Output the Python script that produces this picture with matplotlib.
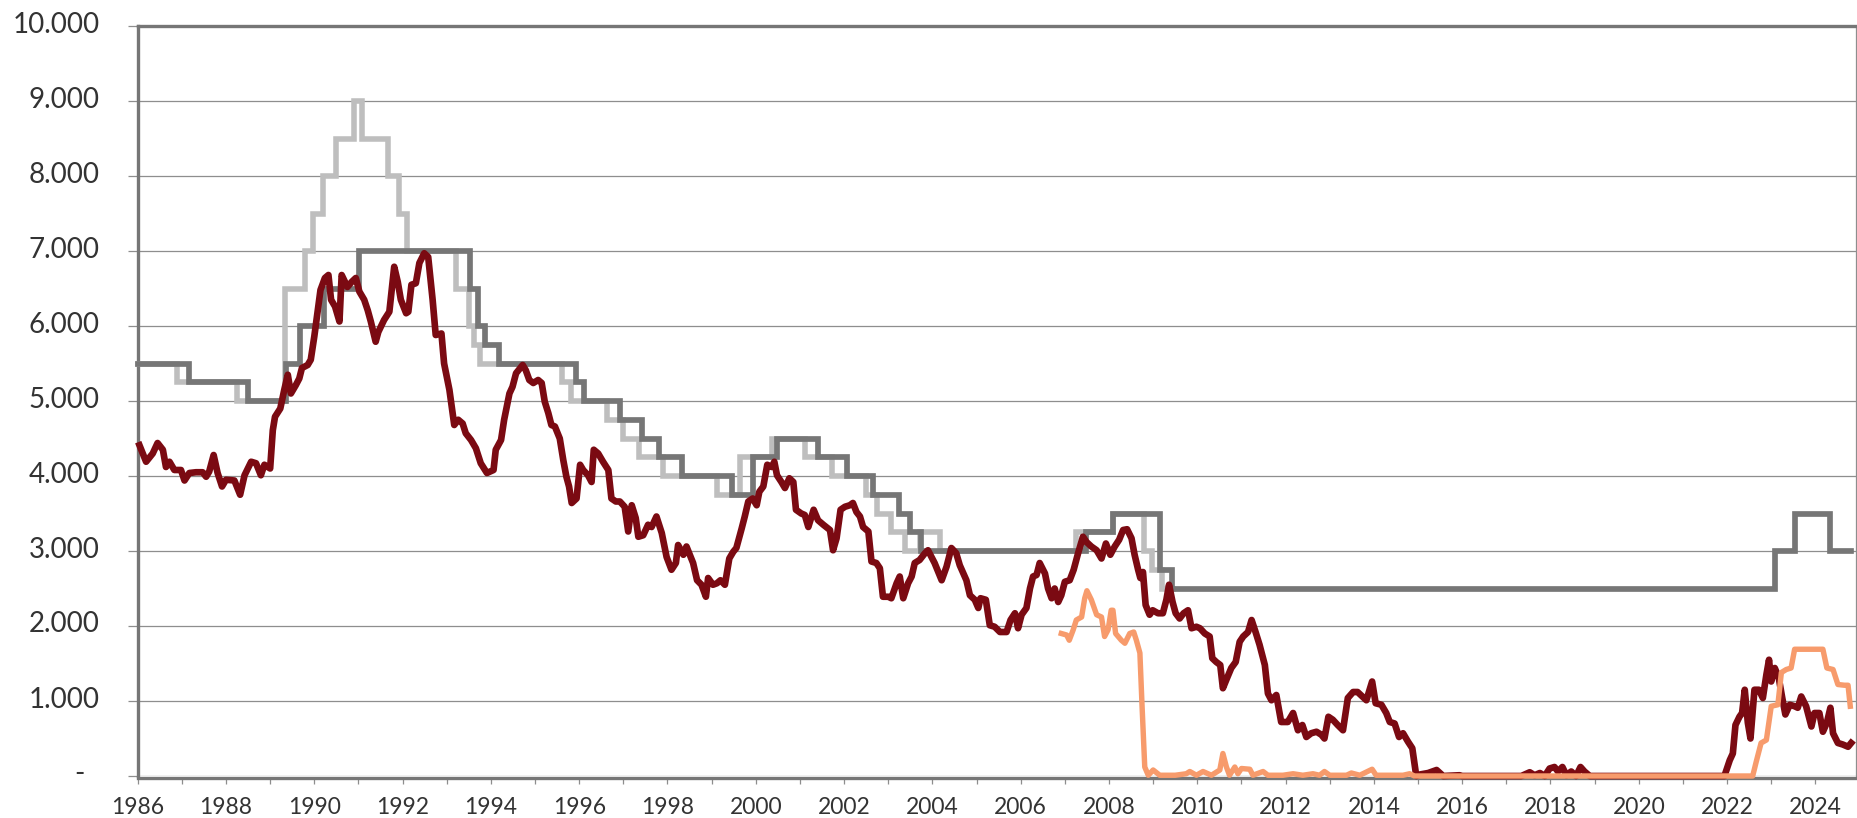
import matplotlib
matplotlib.use("Agg")
import matplotlib.pyplot as plt
import matplotlib.transforms as mtransforms

# ---------------- data ----------------
# light grey stepped rate: change dates (decimal years) and values
lg_dates = [1986.0, 1986.9, 1988.25, 1989.33, 1989.8, 1989.97, 1990.2, 1990.5, 1990.9,
            1991.07, 1991.68, 1991.92, 1992.1, 1993.21, 1993.5, 1993.62, 1993.75,
            1995.62, 1995.82, 1996.64, 1997.0, 1997.36, 1997.9, 1999.12, 1999.64,
            2000.36, 2001.11, 2001.72, 2002.5, 2002.75, 2003.07, 2003.38, 2003.72,
            2004.17, 2007.25, 2008.1, 2008.8, 2008.97, 2009.2, 2009.45]
lg_values = [5.5, 5.25, 5.0, 6.5, 7.0, 7.5, 8.0, 8.5, 9.0,
             8.5, 8.0, 7.5, 7.0, 6.5, 6.0, 5.75, 5.5,
             5.25, 5.0, 4.75, 4.5, 4.25, 4.0, 3.75, 4.25,
             4.5, 4.25, 4.0, 3.75, 3.5, 3.25, 3.0, 3.25,
             3.0, 3.25, 3.5, 3.0, 2.75, 2.5, 2.5]

# dark grey stepped rate
dg_dates = [1986.0, 1987.16, 1988.5, 1989.36, 1989.68, 1990.22, 1991.02, 1993.52, 1993.70,
            1993.86, 1994.18, 1995.93, 1996.12, 1996.93, 1997.42, 1997.8, 1998.33, 1999.46,
            1999.94, 2000.47, 2001.41, 2002.06, 2002.66, 2003.24, 2003.5, 2003.74, 2007.47,
            2008.1, 2009.15, 2009.42, 2023.08, 2023.54, 2024.33, 2024.80]
dg_values = [5.5, 5.25, 5.0, 5.5, 6.0, 6.5, 7.0, 6.5, 6.0,
             5.75, 5.5, 5.25, 5.0, 4.75, 4.5, 4.25, 4.0, 3.75,
             4.25, 4.5, 4.25, 4.0, 3.75, 3.5, 3.25, 3.0, 3.25,
             3.5, 2.75, 2.5, 3.0, 3.5, 3.0, 3.0]

# dark red line (long-term yield, floored at 0)
red_dates = [1986.04, 1986.19, 1986.34, 1986.45, 1986.57, 1986.64, 1986.72, 1986.83, 1986.98,
             1987.06, 1987.17, 1987.32, 1987.47, 1987.55, 1987.62, 1987.72, 1987.81, 1987.91,
             1988.0, 1988.19, 1988.32, 1988.42, 1988.57, 1988.68, 1988.79, 1988.87, 1989.0,
             1989.06, 1989.11, 1989.23, 1989.32, 1989.40, 1989.47, 1989.58, 1989.66, 1989.72,
             1989.85, 1989.92, 1990.0, 1990.08, 1990.14, 1990.24, 1990.32, 1990.38, 1990.47,
             1990.57, 1990.62, 1990.75, 1990.85, 1990.94, 1991.02, 1991.13, 1991.21, 1991.28,
             1991.39, 1991.45, 1991.58, 1991.70, 1991.81, 1991.89, 1991.96, 1992.08, 1992.13,
             1992.20, 1992.30, 1992.38, 1992.49, 1992.58, 1992.68, 1992.75, 1992.88, 1992.94,
             1993.06, 1993.17, 1993.26, 1993.36, 1993.43, 1993.55, 1993.66, 1993.77, 1993.91,
             1994.06, 1994.11, 1994.23, 1994.30, 1994.42, 1994.49, 1994.57, 1994.72, 1994.79,
             1994.87,
             1994.96, 1995.07, 1995.15, 1995.22, 1995.30, 1995.37, 1995.45, 1995.56, 1995.64,
             1995.71, 1995.77, 1995.83, 1995.94, 1996.02, 1996.09, 1996.20, 1996.28, 1996.33,
             1996.43, 1996.54, 1996.66, 1996.73, 1996.83, 1996.92, 1997.03, 1997.11, 1997.19,
             1997.28, 1997.34, 1997.45, 1997.56, 1997.64, 1997.75, 1997.87, 1997.98, 1998.09,
             1998.19, 1998.24, 1998.36, 1998.43, 1998.58, 1998.67, 1998.77, 1998.87, 1998.92,
             1999.03, 1999.12, 1999.20, 1999.30, 1999.40, 1999.49, 1999.56, 1999.68, 1999.75,
             1999.83, 1999.93, 2000.02, 2000.08, 2000.17, 2000.26, 2000.36, 2000.42, 2000.48,
             2000.58, 2000.66, 2000.76, 2000.85, 2000.91, 2001.03, 2001.11, 2001.19, 2001.31,
             2001.41, 2001.53, 2001.68, 2001.75, 2001.83, 2001.92, 2002.02, 2002.13, 2002.20,
             2002.28, 2002.36, 2002.43, 2002.55, 2002.62, 2002.73, 2002.81, 2002.88, 2003.0,
             2003.07, 2003.19, 2003.26, 2003.34, 2003.45, 2003.53, 2003.60, 2003.71, 2003.83,
             2003.90,
             2004.05, 2004.21, 2004.32, 2004.43, 2004.54, 2004.62, 2004.77, 2004.85, 2004.96,
             2005.04, 2005.09, 2005.21, 2005.30, 2005.41, 2005.53, 2005.68, 2005.77, 2005.87,
             2005.94, 2006.02, 2006.13, 2006.21, 2006.28, 2006.36, 2006.43, 2006.55, 2006.62,
             2006.70, 2006.77, 2006.85, 2006.92, 2007.0, 2007.11, 2007.20, 2007.30, 2007.41,
             2007.49, 2007.60, 2007.72, 2007.83, 2007.93, 2008.03, 2008.13, 2008.23, 2008.32,
             2008.41, 2008.51, 2008.58, 2008.66, 2008.71, 2008.77, 2008.83, 2008.92, 2008.99,
             2009.11, 2009.22, 2009.30, 2009.36, 2009.44, 2009.51, 2009.60, 2009.69, 2009.79,
             2009.87, 2009.98, 2010.06, 2010.17, 2010.28, 2010.34, 2010.43, 2010.52, 2010.58,
             2010.67, 2010.77, 2010.87, 2010.96, 2011.04, 2011.15, 2011.23, 2011.32, 2011.41,
             2011.53, 2011.60, 2011.68, 2011.79, 2011.90, 2012.05, 2012.17, 2012.28, 2012.38,
             2012.47, 2012.58, 2012.70, 2012.81, 2012.88, 2012.97, 2013.07, 2013.18, 2013.30,
             2013.41, 2013.53, 2013.63, 2013.74, 2013.83, 2013.96, 2014.04, 2014.17, 2014.28,
             2014.36, 2014.47, 2014.57, 2014.66, 2014.77, 2014.87, 2014.96,
             2015.04, 2015.23, 2015.42, 2015.57, 2015.94, 2016.0, 2017.34, 2017.53, 2017.64,
             2017.76, 2017.87, 2017.98, 2018.09, 2018.17, 2018.27, 2018.36, 2018.47, 2018.58,
             2018.68, 2018.77, 2018.89, 2021.75, 2021.94, 2022.06, 2022.13, 2022.19, 2022.28,
             2022.34, 2022.40, 2022.47, 2022.53, 2022.62, 2022.72, 2022.81, 2022.89, 2022.95,
             2023.0, 2023.08, 2023.17, 2023.25, 2023.32, 2023.42, 2023.53, 2023.60, 2023.68,
             2023.79, 2023.91, 2023.98, 2024.09, 2024.17, 2024.26, 2024.34, 2024.40, 2024.51,
             2024.62, 2024.74, 2024.81]
red_values = [4.41, 4.19, 4.30, 4.44, 4.35, 4.12, 4.19, 4.08, 4.08,
              3.94, 4.04, 4.05, 4.05, 3.99, 4.06, 4.28, 4.04, 3.86,
              3.95, 3.94, 3.75, 4.01, 4.19, 4.17, 4.01, 4.15, 4.10,
              4.61, 4.79, 4.90, 5.15, 5.35, 5.10, 5.21, 5.30, 5.44,
              5.48, 5.55, 5.86, 6.21, 6.48, 6.64, 6.68, 6.35, 6.26,
              6.06, 6.68, 6.52, 6.59, 6.64, 6.46, 6.35, 6.21, 6.06,
              5.79, 5.92, 6.08, 6.19, 6.79, 6.59, 6.35, 6.17, 6.19,
              6.55, 6.57, 6.84, 6.97, 6.92, 6.35, 5.88, 5.90, 5.50,
              5.15, 4.68, 4.75, 4.70, 4.57, 4.48, 4.37, 4.17, 4.04,
              4.08, 4.35, 4.48, 4.75, 5.10, 5.19, 5.37, 5.48, 5.41,
              5.28,
              5.24, 5.28, 5.24, 4.99, 4.84, 4.68, 4.66, 4.50, 4.21,
              3.99, 3.86, 3.64, 3.70, 4.15, 4.08, 4.01, 3.92, 4.35,
              4.30, 4.19, 4.08, 3.70, 3.66, 3.66, 3.59, 3.26, 3.61,
              3.44, 3.19, 3.21, 3.35, 3.32, 3.46, 3.24, 2.92, 2.75,
              2.84, 3.08, 2.95, 3.06, 2.84, 2.61, 2.55, 2.39, 2.64,
              2.55, 2.57, 2.61, 2.55, 2.90, 2.99, 3.04, 3.30, 3.46,
              3.66, 3.70, 3.61, 3.79, 3.86, 4.15, 4.12, 4.19, 4.01,
              3.92, 3.84, 3.97, 3.92, 3.55, 3.50, 3.48, 3.32, 3.55,
              3.41, 3.35, 3.28, 3.01, 3.17, 3.55, 3.59, 3.61, 3.64,
              3.52, 3.46, 3.32, 3.26, 2.86, 2.84, 2.77, 2.39, 2.39,
              2.37, 2.57, 2.66, 2.37, 2.57, 2.66, 2.84, 2.88, 2.97,
              3.01,
              2.84, 2.61, 2.79, 3.04, 2.97, 2.81, 2.61, 2.41, 2.35,
              2.24, 2.37, 2.35, 2.01, 1.99, 1.92, 1.92, 2.08, 2.17,
              1.97, 2.15, 2.24, 2.50, 2.66, 2.68, 2.84, 2.70, 2.50,
              2.37, 2.50, 2.32, 2.41, 2.59, 2.61, 2.75, 2.97, 3.19,
              3.12, 3.06, 3.01, 2.90, 3.10, 2.95, 3.06, 3.15, 3.28,
              3.29, 3.17, 2.95, 2.75, 2.64, 2.72, 2.28, 2.15, 2.21,
              2.17, 2.17, 2.35, 2.55, 2.32, 2.17, 2.10, 2.17, 2.21,
              1.97, 1.99, 1.97, 1.90, 1.86, 1.57, 1.52, 1.48, 1.17,
              1.30, 1.44, 1.52, 1.79, 1.86, 1.92, 2.08, 1.92, 1.75,
              1.48, 1.10, 1.01, 1.08, 0.72, 0.72, 0.84, 0.61, 0.68,
              0.52, 0.57, 0.59, 0.55, 0.50, 0.79, 0.75, 0.68, 0.61,
              1.04, 1.12, 1.12, 1.06, 1.01, 1.26, 0.97, 0.95, 0.84,
              0.72, 0.70, 0.52, 0.57, 0.46, 0.37, 0.0,
              0.02, 0.04, 0.08, 0.0, 0.01, 0.0, 0.0, 0.05, 0.01,
              0.04, 0.0, 0.10, 0.12, 0.06, 0.12, 0.01, 0.06, 0.0,
              0.12, 0.06, 0.0, 0.0, 0.0, 0.21, 0.30, 0.68, 0.79,
              0.84, 1.15, 0.71, 0.50, 1.15, 1.15, 1.04, 1.35, 1.55,
              1.26, 1.44, 1.31, 1.04, 0.82, 0.95, 0.93, 0.91, 1.06,
              0.93, 0.66, 0.84, 0.84, 0.59, 0.71, 0.91, 0.57, 0.44,
              0.42, 0.39, 0.44]

# orange line (short-term rate, floored at 0)
or_dates = [2006.92, 2007.04, 2007.10, 2007.19, 2007.26, 2007.38, 2007.45, 2007.50, 2007.60,
            2007.72, 2007.83, 2007.90, 2007.98, 2008.05, 2008.09, 2008.15, 2008.28, 2008.36,
            2008.47, 2008.56, 2008.62, 2008.70, 2008.75, 2008.81, 2008.89, 2009.0, 2009.15,
            2009.5, 2009.75, 2009.83, 2009.98, 2010.13, 2010.32, 2010.51, 2010.58, 2010.66,
            2010.73, 2010.85, 2010.92, 2011.0, 2011.19, 2011.26, 2011.49, 2011.60, 2011.94,
            2012.17, 2012.39, 2012.62, 2012.77, 2012.88, 2013.0, 2013.38, 2013.49, 2013.68,
            2013.96, 2014.05, 2014.66, 2014.81, 2014.92, 2022.58, 2022.66, 2022.77, 2022.89,
            2023.0, 2023.15, 2023.23, 2023.34, 2023.45, 2023.53, 2024.17, 2024.26, 2024.40,
            2024.51, 2024.66, 2024.74, 2024.79]
or_values = [1.90, 1.88, 1.81, 1.95, 2.08, 2.12, 2.37, 2.47, 2.35,
             2.15, 2.12, 1.86, 1.95, 2.21, 2.21, 1.90, 1.81, 1.77,
             1.90, 1.92, 1.81, 1.64, 0.92, 0.12, 0.01, 0.08, 0.01,
             0.01, 0.03, 0.06, 0.01, 0.06, 0.01, 0.08, 0.30, 0.12,
             0.01, 0.12, 0.03, 0.10, 0.09, 0.01, 0.06, 0.01, 0.01,
             0.03, 0.01, 0.03, 0.01, 0.06, 0.01, 0.01, 0.04, 0.01,
             0.09, 0.01, 0.01, 0.03, 0.0, 0.0, 0.19, 0.44, 0.48,
             0.93, 0.95, 1.38, 1.42, 1.44, 1.69, 1.69, 1.44, 1.42,
             1.22, 1.21, 1.21, 0.93]

ytick_values = [0, 1, 2, 3, 4, 5, 6, 7, 8, 9, 10]
ytick_labels = ["-", "1.000", "2.000", "3.000", "4.000", "5.000", "6.000", "7.000",
                "8.000", "9.000", "10.000"]
xtick_years = list(range(1986, 2025, 2))
xminor_years = list(range(1987, 2025, 2))

# ---------------- style ----------------
C_RED = "#7B0A12"
C_DG = "#767676"
C_LG = "#BEBEBE"
C_OR = "#F79B6C"
C_GRID = "#8E8E8E"
C_TXT = "#333333"
FONT = ["Lato", "DejaVu Sans"]

W, H = 1857, 818
fig = plt.figure(figsize=(W / 100, H / 100), dpi=100)
x0, x1 = 137.7, 1856.0
y0, y1 = 776.0, 26.0
ax = fig.add_axes([x0 / W, 1 - y0 / H, (x1 - x0) / W, (y0 - y1) / H])

ax.step(lg_dates, lg_values, where="post", color=C_LG, lw=4.0, zorder=3,
        clip_on=False, solid_joinstyle="miter")
ax.step(dg_dates, dg_values, where="post", color=C_DG, lw=4.1, zorder=3.1,
        clip_on=False, solid_joinstyle="miter")
ax.plot(red_dates, red_values, color=C_RED, lw=4.8, zorder=3.2, clip_on=False,
        solid_joinstyle="round")
ax.plot(or_dates, or_values, color=C_OR, lw=3.9, zorder=3.3, clip_on=False,
        solid_joinstyle="round")

ax.set_xlim(1986.0, 2024.92)
ax.set_ylim(0, 10)

ax.set_yticks(ytick_values)
ax.set_yticklabels(ytick_labels)
ax.set_xticks(xtick_years)
ax.set_xticklabels([str(y) for y in xtick_years])
ax.set_xticks(xminor_years, minor=True)

ax.grid(axis="y", color=C_GRID, lw=0.9, zorder=1)
ax.set_axisbelow(True)
ax.tick_params(axis="y", length=7.2, width=0.9, color=C_GRID, pad=20,
               labelsize=20, labelcolor=C_TXT)
ax.tick_params(axis="x", which="both", length=4.5, width=0.9, color=C_GRID, pad=9,
               labelsize=16.5, labelcolor=C_TXT)

for side in ["left", "top", "bottom"]:
    ax.spines[side].set_color(C_DG)
    ax.spines[side].set_linewidth(2.4)
ax.spines["right"].set_color(C_GRID)
ax.spines["right"].set_linewidth(0.9)
ax.spines["bottom"].set_position(("outward", 1.5))

for lab in ax.get_xticklabels():
    lab.set_fontfamily(FONT)
    lab.set_fontsize(16.5)
    lab.set_color(C_TXT)

# shift y labels slightly upward like the reference; dash label further left
for lab, v in zip(ax.get_yticklabels(), ytick_values):
    lab.set_fontfamily(FONT)
    lab.set_fontsize(20)
    lab.set_color(C_TXT)
    dx = -15 / 100 if v == 0 else 0
    dy = 4 / 100
    lab.set_transform(lab.get_transform() +
                      mtransforms.ScaledTranslation(dx, dy, fig.dpi_scale_trans))

fig.savefig("out.png", dpi=100)
